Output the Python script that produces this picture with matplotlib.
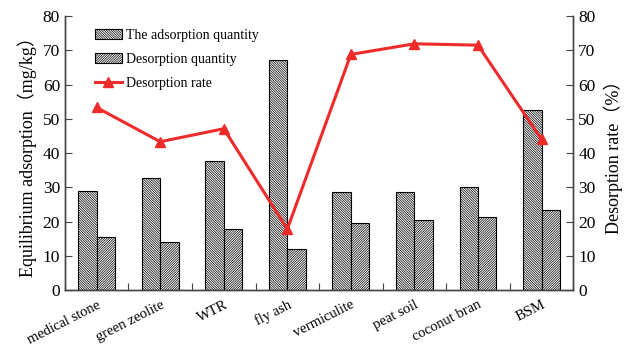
import matplotlib
matplotlib.use("Agg")
import matplotlib.pyplot as plt
import matplotlib.transforms as mtransforms
import numpy as np

categories = ["medical stone", "green zeolite", "WTR", "fly ash", "vermiculite",
              "peat soil", "coconut bran", "BSM"]
adsorption = [29.0, 32.6, 37.7, 67.2, 28.5, 28.7, 30.0, 52.6]
desorption = [15.4, 14.1, 17.7, 12.0, 19.7, 20.5, 21.2, 23.3]
desorption_rate = [53.3, 43.3, 47.1, 17.8, 68.8, 71.9, 71.5, 44.0]
yticks = [0, 10, 20, 30, 40, 50, 60, 70, 80]

fam = ["Liberation Serif", "Noto Sans CJK SC"]
plt.rcParams["font.family"] = fam
plt.rcParams["hatch.linewidth"] = 0.5
plt.rcParams["hatch.color"] = "#222222"

fig = plt.figure(figsize=(6.3, 3.49), dpi=100)
ax = fig.add_axes([0.103, 0.169, 0.807, 0.785])
ax2 = ax.twinx()

x = np.arange(len(categories))
w = 0.29
b1 = ax.bar(x - w / 2, adsorption, w, facecolor="white", edgecolor="black",
            linewidth=0.8, hatch="\\" * 14, label="The adsorption quantity", zorder=2)
b2 = ax.bar(x + w / 2, desorption, w, facecolor="white", edgecolor="black",
            linewidth=0.8, hatch="/" * 14, label="Desorption quantity", zorder=2)
l, = ax2.plot(x, desorption_rate, color="#ee2a2a", linewidth=2.2, marker="^",
              markersize=7, label="Desorption rate")

ax.set_xlim(-0.5, len(categories) - 0.5)
ax.set_ylim(0, 80)
ax2.set_ylim(0, 80)
ax.set_yticks(yticks)
ax2.set_yticks(yticks)
ax.set_xticks(np.arange(len(categories) + 1) - 0.5, minor=False)
ax.set_xticklabels([])
ax.set_xticks(x, minor=True)
ax.set_xticklabels(categories, minor=True, rotation=27, ha="right",
                   rotation_mode="anchor", fontsize=10.5)
offset = mtransforms.ScaledTranslation(6 / 100, 0, fig.dpi_scale_trans)
for lab in ax.get_xticklabels(minor=True):
    lab.set_transform(lab.get_transform() + offset)
ax.tick_params(axis="x", which="major", direction="in", length=5, color="#444444")
ax.tick_params(axis="x", which="minor", length=0, pad=6)
ax.tick_params(axis="y", direction="in", length=5, labelsize=12.5, color="#444444")
ax2.tick_params(axis="y", direction="in", length=5, labelsize=12.5, color="#444444")

for a in (ax, ax2):
    a.spines["top"].set_visible(False)
    for s in ("left", "right", "bottom"):
        a.spines[s].set_color("#444444")
        a.spines[s].set_linewidth(1.0)

ax.set_ylabel("Equilibrium adsorption（mg/kg）", fontsize=13, family=fam, labelpad=4)
ax2.set_ylabel("Desorption rate（%）", fontsize=13, family=fam, labelpad=6)

ax.legend([b1, b2, l], ["The adsorption quantity", "Desorption quantity", "Desorption rate"],
          loc="upper left", bbox_to_anchor=(0.035, 1.0), frameon=False, fontsize=10,
          handlelength=1.9, handleheight=0.8, labelspacing=0.8, handletextpad=0.35)

fig.savefig("out.png", dpi=100, facecolor="white")
